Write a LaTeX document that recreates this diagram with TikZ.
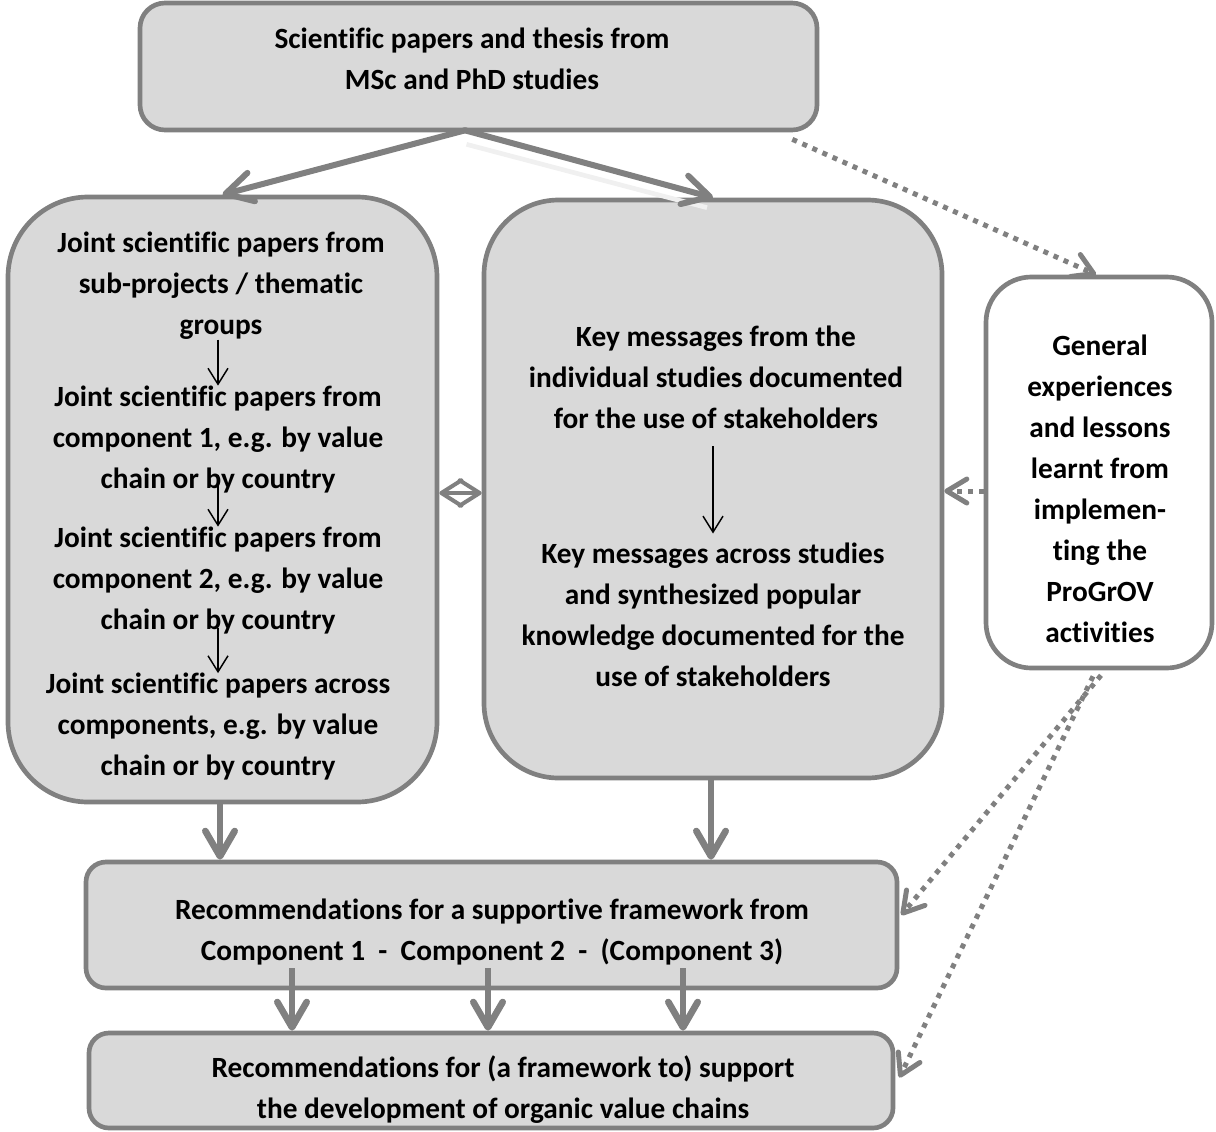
\documentclass[tikz,border=0pt]{standalone}
\usepackage{fontspec}
\setmainfont{Carlito}[Ligatures={NoCommon}]
\usetikzlibrary{arrows.meta,calc}
\definecolor{boxfill}{HTML}{D9D9D9}
\definecolor{edge}{HTML}{808080}
\definecolor{hilite}{HTML}{F0F0F0}
\begin{document}
\begin{tikzpicture}[x=0.75pt,y=-0.75pt,
  box/.style={draw=edge,fill=boxfill,line width=3.5pt,inner sep=0pt,rectangle},
  tx/.style={align=center,font=\fontsize{22}{30.75}\selectfont\bfseries,inner sep=0pt,text=black},
  bigarrow/.style={draw=edge,line width=4.5pt,line cap=round,-{Straight Barb[length=20pt,width=22pt,round]}},
  downarrow/.style={draw=edge,line width=5pt,-{Straight Barb[length=19pt,width=22pt,round]}},
  dotarrow/.style={draw=edge,line width=3.75pt,dash pattern=on 3.75pt off 4.5pt,-{Straight Barb[length=15pt,width=18pt,round]}},
  thinarrow/.style={draw=black,line width=1.1pt,-{Straight Barb[length=12pt,width=15pt]}},
  linkarrow/.style={draw=edge,line width=3pt,{Straight Barb[length=15pt,width=19pt,round]}-{Straight Barb[length=15pt,width=19pt,round]}}
]
\useasboundingbox (0,0) rectangle (1216,1131);
% boxes
\node[box,rounded corners=18.75pt,minimum width=507.75pt,minimum height=95.25pt] (top) at (478.5,66.5) {};
\node[box,rounded corners=60pt,minimum width=321.75pt,minimum height=453.75pt] (left) at (222.5,499.5) {};
\node[box,rounded corners=56pt,minimum width=343.5pt,minimum height=433.5pt] (mid) at (713,489) {};
\node[box,fill=white,rounded corners=34pt,minimum width=169.5pt,minimum height=293.25pt] (right) at (1099,472.5) {};
\node[box,rounded corners=15pt,minimum width=608.25pt,minimum height=94.5pt] (rec1) at (491.5,925) {};
\node[box,rounded corners=15pt,minimum width=603pt,minimum height=71.25pt] (rec2) at (491,1080.5) {};
% texts
\node[tx] (ttop) at (472,58.5) {Scientific papers and thesis from\\MSc and PhD studies};
\node[tx] (tl1) at (221,285.5) {Joint scientific papers from\\sub-projects / thematic\\groups};
\node[tx] (tl2) at (218,439.5) {Joint scientific papers from\\component 1, e.g. by value\\chain or by country};
\node[tx] (tl3) at (218,580.5) {Joint scientific papers from\\component 2, e.g. by value\\chain or by country};
\node[tx] (tl4) at (218,727) {Joint scientific papers across\\components, e.g. by value\\chain or by country};
\node[tx] (tm1) at (716,377) {Key messages from the\\individual studies documented\\for the use of stakeholders};
\node[tx] (tm2) at (713,615) {Key messages across studies\\and synthesized popular\\knowledge documented for the\\use of stakeholders};
\node[tx] (tr) at (1100,488.5) {General\\experiences\\and lessons\\learnt from\\implemen-\\ting the\\ProGrOV\\activities};
\node[tx] (trec1) at (492,932.5) {Recommendations for a supportive framework from\\Component 1\ \ -\ \ Component 2\ \ -\ \ (Component 3)};
\node[tx] (trec2) at (503,1089.5) {Recommendations for (a framework to) support\\the development of organic value chains};
% highlight streak
\draw[hilite,line width=3.5pt] ($(top.south)+(-12,12)$) -- ($(mid.north)+(-6,10)$);
% top arrows
\coordinate (tsplit) at ($(top.south)+(-13.5,-2)$);
\draw[bigarrow] (tsplit) -- (left.north);
\draw[bigarrow] (tsplit) -- (mid.north);
% inner thin arrows
\draw[thinarrow] (tl1.south -| tl2.north) -- (tl2.north);
\draw[thinarrow,shorten <=-14pt] (tl2.south) -- (tl3.north);
\draw[thinarrow,shorten <=-5pt] (tl3.south) -- (tl4.north);
\draw[thinarrow,shorten <=13pt,shorten >=7pt] (tm1.south -| 713,0) -- (tm2.north -| 713,0);
% link between left and mid
\draw[linkarrow] (left.east |- 0,493) -- (mid.west |- 0,493);
% dotted arrows from/to right box
\draw[dotarrow] ($(top.south east)+(-27,7)$) -- ($(right.north)+(-3,0)$);
\draw[dotarrow] (right.west |- 0,491) -- (mid.east |- 0,491);
\draw[dotarrow] ($(right.south)+(2,5)$) -- ($(rec1.east)+(2,-10)$);
\draw[dotarrow] ($(right.south)+(-6,6)$) -- ($(rec2.east)+(4,-3)$);
% down arrows
\draw[downarrow] (left.south -| 220,0) -- (rec1.north -| 220,0);
\draw[downarrow] (mid.south -| 711,0) -- (rec1.north -| 711,0);
\coordinate (d1) at (292,968);
\coordinate (d2) at (488,968);
\coordinate (d3) at (683,968);
\draw[downarrow] (d1) -- (d1 |- rec2.north);
\draw[downarrow] (d2) -- (d2 |- rec2.north);
\draw[downarrow] (d3) -- (d3 |- rec2.north);
\end{tikzpicture}
\end{document}
